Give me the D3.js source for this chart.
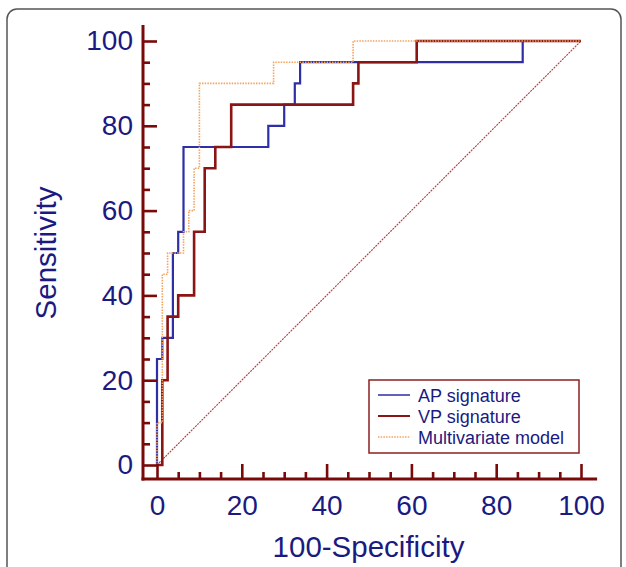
<!DOCTYPE html>
<html>
<head>
<meta charset="utf-8">
<script src="https://cdn.jsdelivr.net/npm/d3@7"></script>
<style>
  html, body { margin: 0; padding: 0; background: #fff; }
  svg { display: block; font-family: "Liberation Sans", Arial, sans-serif; }
</style>
</head>
<body>
<svg id="chart" width="626" height="567"></svg>
<script>
// ---- Data (ROC step vertices, values in %) ----
const apFpr = [0, 0, 1.25, 1.25, 3.75, 3.75, 5, 5, 6.25, 6.25, 26.25, 26.25, 30, 30, 32.5, 32.5, 33.75, 33.75, 86.25, 86.25, 100];
const apTpr = [0, 25, 25, 30, 30, 50, 50, 55, 55, 75, 75, 80, 80, 85, 85, 90, 90, 95, 95, 100, 100];

const vpFpr = [0, 1.25, 1.25, 2.5, 2.5, 5, 5, 8.75, 8.75, 11.25, 11.25, 13.75, 13.75, 17.5, 17.5, 46.25, 46.25, 47.5, 47.5, 61.25, 61.25, 100];
const vpTpr = [0, 0, 20, 20, 35, 35, 40, 40, 55, 55, 70, 70, 75, 75, 85, 85, 90, 90, 95, 95, 100, 100];

const mvFpr = [0, 0, 1.25, 1.25, 2.5, 2.5, 6.25, 6.25, 7.5, 7.5, 8.75, 8.75, 10, 10, 27.5, 27.5, 46.25, 46.25, 100];
const mvTpr = [0, 10, 10, 45, 45, 50, 50, 55, 55, 60, 60, 70, 70, 90, 90, 95, 95, 100, 100];

const diagFpr = [0, 100];
const diagTpr = [0, 100];

const majorTicks = [0, 20, 40, 60, 80, 100];
const allTicks = d3.range(0, 101, 5);
const axisExtent = [-3.5, 103.8];
const axisOffset = -3.3;

const legendLabels = ["AP signature", "VP signature", "Multivariate model"];
const xTitle = "100-Specificity";
const yTitle = "Sensitivity";

// ---- Styles ----
const textColor = "#1a1a80";
const axisColor = "#7a0a0a";
const apColor = "#2e2ea6";
const vpColor = "#8b1414";
const mvColor = "#f4a460";
const diagColor = "#b23a3a";

const svg = d3.select("#chart");

// frame
svg.append("rect")
  .attr("x", 7).attr("y", 9).attr("width", 614).attr("height", 620)
  .attr("rx", 10).attr("ry", 10)
  .attr("fill", "none").attr("stroke", "#555").attr("stroke-width", 1.5);

const x = d3.scaleLinear().domain([0, 100]).range([157, 581]);
const y = d3.scaleLinear().domain([0, 100]).range([465, 41]);

const zip = (a, b) => a.map((v, i) => [v, b[i]]);
const line = d3.line().x(d => x(d[0])).y(d => y(d[1]));

// diagonal
svg.append("path")
  .attr("d", line(zip(diagFpr, diagTpr)))
  .attr("fill", "none").attr("stroke", diagColor)
  .attr("stroke-width", 1.1).attr("stroke-dasharray", "2,1");

// AP
svg.append("path")
  .attr("d", line(zip(apFpr, apTpr)))
  .attr("fill", "none").attr("stroke", apColor).attr("stroke-width", 2.2);

// VP
svg.append("path")
  .attr("d", line(zip(vpFpr, vpTpr)))
  .attr("fill", "none").attr("stroke", vpColor).attr("stroke-width", 2.6);

// Multivariate
svg.append("path")
  .attr("d", line(zip(mvFpr, mvTpr)))
  .attr("fill", "none").attr("stroke", mvColor)
  .attr("stroke-width", 1.6).attr("stroke-dasharray", "1.5,1.2");

// ---- Axes ----
const xAxisY = y(axisOffset);
const yAxisX = x(axisOffset);

// minor ticks
const yMinor = d3.axisLeft(y).tickValues(allTicks.filter(t => !majorTicks.includes(t)))
  .tickSizeInner(-7).tickSizeOuter(0).tickFormat("");
const yMajor = d3.axisLeft(y).tickValues(majorTicks)
  .tickSizeInner(-14).tickSizeOuter(0).tickPadding(10).tickFormat(d3.format("d"));
const xMinor = d3.axisBottom(x).tickValues(allTicks.filter(t => !majorTicks.includes(t)))
  .tickSizeInner(-7).tickSizeOuter(0).tickFormat("");
const xMajor = d3.axisBottom(x).tickValues(majorTicks)
  .tickSizeInner(-15).tickSizeOuter(0).tickPadding(16).tickFormat(d3.format("d"));

function styleAxis(g) {
  g.select(".domain").remove();
  g.selectAll(".tick line").attr("stroke", axisColor).attr("stroke-width", 2.6);
  g.selectAll(".tick text").attr("fill", textColor)
    .style("font-size", "28px").style("font-family", '"Liberation Sans", Arial, sans-serif');
}

svg.append("g").attr("transform", `translate(${yAxisX},0)`).call(yMinor).call(styleAxis);
svg.append("g").attr("transform", `translate(${yAxisX},0)`).call(yMajor).call(styleAxis);
svg.append("g").attr("transform", `translate(0,${xAxisY})`).call(xMinor).call(styleAxis);
svg.append("g").attr("transform", `translate(0,${xAxisY})`).call(xMajor).call(styleAxis);

// axis lines
svg.append("line")
  .attr("x1", yAxisX).attr("x2", yAxisX)
  .attr("y1", y(axisExtent[1])).attr("y2", xAxisY + 1.5)
  .attr("stroke", axisColor).attr("stroke-width", 3);
svg.append("line")
  .attr("x1", yAxisX - 1.5).attr("x2", x(axisExtent[1]))
  .attr("y1", xAxisY).attr("y2", xAxisY)
  .attr("stroke", axisColor).attr("stroke-width", 3);

// titles
svg.append("text")
  .attr("x", (x(0) + x(100)) / 2 - 0.5).attr("y", 556.5)
  .attr("text-anchor", "middle").attr("fill", textColor)
  .style("font-size", "29.5px").text(xTitle);
svg.append("text")
  .attr("transform", `translate(56,${(y(0) + y(100)) / 2}) rotate(-90)`)
  .attr("text-anchor", "middle").attr("fill", textColor)
  .style("font-size", "29.5px").text(yTitle);

// ---- Legend ----
const lg = svg.append("g");
lg.append("rect")
  .attr("x", 369).attr("y", 380).attr("width", 210).attr("height", 73)
  .attr("fill", "#fff").attr("stroke", "#8b2020").attr("stroke-width", 1.5);
const legendStyles = [
  { c: apColor, w: 1.5, dash: null },
  { c: vpColor, w: 2, dash: null },
  { c: mvColor, w: 1.3, dash: "1.5,1.2" }
];
legendLabels.forEach((lab, i) => {
  const cy = 395 + i * 21;
  lg.append("line")
    .attr("x1", 378).attr("x2", 410).attr("y1", cy).attr("y2", cy)
    .attr("stroke", legendStyles[i].c).attr("stroke-width", legendStyles[i].w)
    .attr("stroke-dasharray", legendStyles[i].dash);
  lg.append("text")
    .attr("x", 418).attr("y", cy + 6.5)
    .attr("fill", textColor).style("font-size", "18px").text(lab);
});
</script>
</body>
</html>
